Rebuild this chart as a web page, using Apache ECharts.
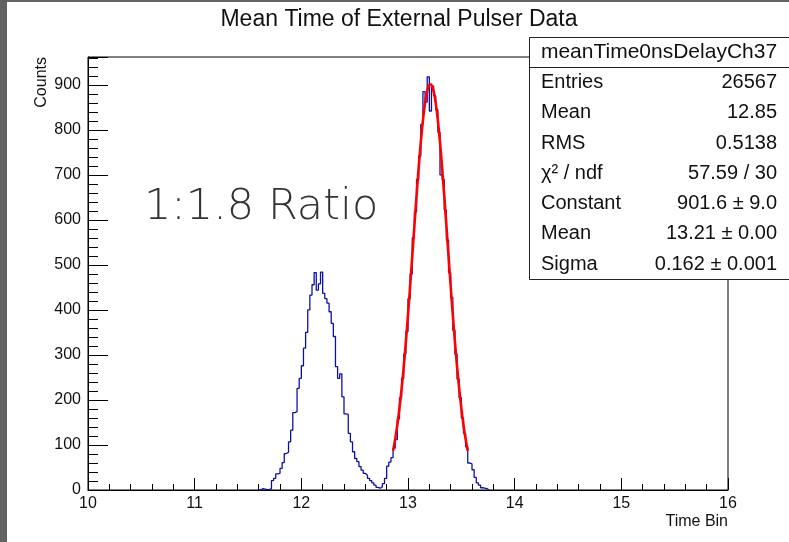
<!DOCTYPE html>
<html><head><meta charset="utf-8">
<script src="https://cdn.jsdelivr.net/npm/echarts@6/dist/echarts.min.js"></script>
<style>html,body{margin:0;padding:0;background:#fff}#c{width:789px;height:542px}</style>
</head><body><div id="c"></div>
<script>
// ---- data ----
const titleText = 'Mean Time of External Pulser Data';
const xAxisTitle = 'Time Bin';
const yAxisTitle = 'Counts';
const annotation = '1:1.8 Ratio';
const binStart = 11.60;
const binWidth = 0.02;
const binCounts = [
  0, 3, 2, 1, 1, 3, 21, 26, 36, 37,
  48, 61, 81, 84, 107, 133, 172, 174, 226, 248,
  276, 315, 350, 400, 433, 456, 483, 444, 458, 484,
  437, 425, 415, 396, 370, 341, 274, 248, 258, 207,
  169, 168, 126, 107, 85, 70, 63, 52, 44, 37,
  33, 26, 21, 16, 11, 6, 4, 7, 14, 26,
  53, 62, 72, 93, 112, 158, 205, 248, 302, 352,
  425, 480, 560, 618, 690, 742, 812, 885, 862, 918,
  842, 897, 876, 845, 795, 700, 690, 622, 555, 483,
  428, 355, 302, 246, 205, 160, 126, 96, 60, 58,
  45, 28, 16, 11, 5, 4, 3, 0
];
const fitX = [12.86, 12.87, 12.89, 12.91, 12.93, 12.95, 12.97, 12.99, 13.01, 13.03, 13.05, 13.07, 13.09, 13.11, 13.13, 13.15, 13.17, 13.19, 13.21,
  13.23, 13.25, 13.27, 13.29, 13.31, 13.33, 13.35, 13.37, 13.39, 13.41, 13.43, 13.45, 13.47, 13.49, 13.51, 13.53, 13.55, 13.56];
const fitY = [87.4, 99.6, 128.1, 162.4, 202.4, 248.7, 301.0, 358.6, 420.8, 486.4, 553.5, 620.8, 685.3, 745.2, 798.1, 841.8, 874.5, 894.8, 901.6,
  894.8, 874.5, 841.8, 798.1, 745.2, 685.3, 620.8, 553.5, 486.4, 420.8, 358.6, 301.0, 248.7, 202.4, 162.4, 128.1, 99.6, 87.4];
const statsHeader = 'meanTime0nsDelayCh37';
const statsLabels = ['Entries', 'Mean', 'RMS', 'χ² / ndf', 'Constant', 'Mean', 'Sigma'];
const statsValues = ['26567', '12.85', '0.5138', '57.59 / 30', '901.6 ± 9.0', '13.21 ± 0.00', '0.162 ± 0.001'];

// ---- build ----
const histData = binCounts.map((v, k) => [+(binStart + k * binWidth).toFixed(4), v]);
histData.push([+(binStart + binCounts.length * binWidth).toFixed(4), binCounts[binCounts.length - 1]]);
const fitData = fitX.map((x, i) => [x, fitY[i]]);

const F = 'Liberation Sans, Arial, Helvetica, sans-serif';
const boxX = 529.5, boxY = 37.5, rowH = 30.25;
const graphics = [
  { type: 'rect', shape: { x: 0, y: 0, width: 7, height: 542 }, style: { fill: '#626262' }, z: 200 },
  { type: 'rect', shape: { x: 0, y: 0, width: 789, height: 2 }, style: { fill: '#626262' }, z: 200 },
  { type: 'text', x: 399, y: 20, style: { text: titleText, font: '23px ' + F, fill: '#111', align: 'center', verticalAlign: 'middle' }, z: 200 },
  { type: 'text', x: 42, y: 57, rotation: Math.PI / 2, style: { text: yAxisTitle, font: '16px ' + F, fill: '#111', align: 'right', verticalAlign: 'middle' }, z: 200 },
  { type: 'text', x: 728, y: 522, style: { text: xAxisTitle, font: '16px ' + F, fill: '#111', align: 'right', verticalAlign: 'middle' }, z: 200 },
  { type: 'text', x: 144, y: 208, style: { text: annotation, font: '200 43px DejaVu Sans, sans-serif', fill: '#333', align: 'left', verticalAlign: 'middle' }, z: 200 },
  { type: 'rect', shape: { x: boxX, y: boxY, width: 280, height: 8 * rowH }, style: { fill: '#fff', stroke: '#222', lineWidth: 1 }, z: 150 },
  { type: 'line', shape: { x1: boxX, y1: 67.5, x2: 789, y2: 67.5 }, style: { stroke: '#222', lineWidth: 1 }, z: 151 },
  { type: 'text', x: 659, y: 52, style: { text: statsHeader, font: '21px ' + F, fill: '#111', align: 'center', verticalAlign: 'middle' }, z: 152 }
];
statsLabels.forEach((lab, i) => {
  const cy = 67.5 + rowH * (i + 0.5);
  graphics.push({ type: 'text', x: 541, y: cy, style: { text: lab, font: '20px ' + F, fill: '#111', align: 'left', verticalAlign: 'middle' }, z: 152 });
  graphics.push({ type: 'text', x: 777, y: cy, style: { text: statsValues[i], font: '20px ' + F, fill: '#111', align: 'right', verticalAlign: 'middle' }, z: 152 });
});

const chart = echarts.init(document.getElementById('c'), null, { renderer: 'canvas' });
chart.setOption({
  animation: false,
  backgroundColor: '#fff',
  grid: { left: 88, right: 61, top: 57, bottom: 52, show: true, borderColor: '#000', borderWidth: 1, backgroundColor: 'transparent' },
  xAxis: {
    type: 'value', min: 10, max: 16, interval: 1,
    axisLine: { show: true, onZero: false, lineStyle: { color: '#000', width: 1 } },
    axisTick: { show: true, inside: true, length: 12, lineStyle: { color: '#000', width: 1 } },
    minorTick: { show: true, splitNumber: 5, length: 6, lineStyle: { color: '#000', width: 1 } },
    axisLabel: { margin: 6, fontSize: 16, fontFamily: F, color: '#111', showMinLabel: true, showMaxLabel: true },
    splitLine: { show: false }
  },
  yAxis: {
    type: 'value', min: 0, max: 962, interval: 100,
    axisLine: { show: true, lineStyle: { color: '#000', width: 1 } },
    axisTick: { show: true, inside: true, length: 20, lineStyle: { color: '#000', width: 1 } },
    minorTick: { show: true, splitNumber: 5, length: 10, lineStyle: { color: '#000', width: 1 } },
    axisLabel: { margin: 7, fontSize: 16, fontFamily: F, color: '#111', showMaxLabel: false },
    splitLine: { show: false }
  },
  series: [
    { type: 'line', step: 'end', data: histData, showSymbol: false, symbol: 'none', lineStyle: { color: '#1010a0', width: 1.3 }, z: 5 },
    { type: 'line', data: fitData, smooth: 0.3, showSymbol: false, symbol: 'none', lineStyle: { color: '#ff0000', width: 2.6 }, z: 6 }
  ],
  graphic: graphics
});
</script></body></html>
